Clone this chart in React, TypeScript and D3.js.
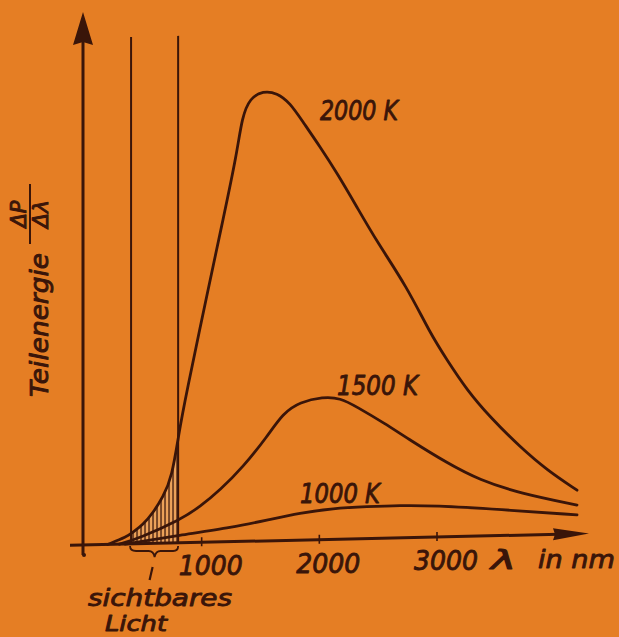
import React from "react";
import * as d3 from "d3";

// ---- data ----
const lambda2000 = [200, 365, 416, 501, 586, 671, 748, 807, 858, 1071, 1181, 1300, 1343, 1411, 1521, 1640, 1751, 1861, 2006, 2150, 2320, 2490, 2745, 2940, 3085, 3255, 3450, 3705, 3935, 4190];
const energy2000 = [0, 1.6, 2.6, 4.2, 6.8, 10.2, 14.7, 24.4, 31.7, 58.2, 71.5, 86.3, 94.3, 98.5, 100, 99.5, 97.2, 92.9, 87.3, 81.4, 73.7, 65.9, 55.7, 45.4, 39.3, 32.5, 26.4, 19.6, 14.3, 9.7];

const lambda1500 = [300, 476, 816, 986, 1156, 1351, 1555, 1691, 1836, 2031, 2176, 2320, 2550, 2770, 3085, 3365, 3705, 4190];
const energy1500 = [0, 1.3, 5.1, 7.9, 11.5, 16.5, 23.1, 28.3, 30.7, 31.7, 31.4, 29.3, 25.6, 21.7, 16.4, 12.4, 9.3, 6.4];

const lambda1000 = [350, 816, 1266, 1555, 1836, 2116, 2405, 2686, 2974, 3535, 4190];
const energy1000 = [0, 1.7, 3.2, 4.6, 6.0, 6.9, 7.1, 7.2, 7.0, 5.8, 4.2];

const curveLabels = ["2000 K", "1500 K", "1000 K"];
const tickValues = [1000, 2000, 3000];
const tickLabels = ["1000", "2000", "3000"];
const visibleRange = [400, 800];

const W = 619;
const H = 637;
const BG = "#e57e24";
const INK = "#3a1509";
const FONT = "'DejaVu Sans', sans-serif";

export default function App() {
  const x = d3.scaleLinear().domain([0, 3000]).range([84, 437]);
  const y = d3.scaleLinear().domain([0, 100]).range([545, 95]);
  const y0 = y(0);

  const line = d3
    .line<[number, number]>()
    .x((d) => x(d[0]))
    .y((d) => y(d[1]))
    .curve(d3.curveBasis);

  const area = d3
    .area<[number, number]>()
    .x((d) => x(d[0]))
    .y0(y0)
    .y1((d) => y(d[1]))
    .curve(d3.curveBasis);

  const s2000 = lambda2000.map((l, i) => [l, energy2000[i]] as [number, number]);
  const s1500 = lambda1500.map((l, i) => [l, energy1500[i]] as [number, number]);
  const s1000 = lambda1000.map((l, i) => [l, energy1000[i]] as [number, number]);

  const xv0 = x(visibleRange[0]);
  const xv1 = x(visibleRange[1]);
  const xm = (xv0 + xv1) / 2;
  const xEnd = 589;
  const skew = `translate(84,${y0}) skewY(-1.3) translate(-84,${-y0})`;

  const labelStyle = {
    fontFamily: FONT,
    fontStyle: "italic" as const,
    fill: INK,
    stroke: INK,
    strokeWidth: 0.9,
    strokeLinejoin: "round" as const,
  };

  return (
    <svg width={W} height={H} style={{ position: "absolute", left: 0, top: 0 }}>
      <defs>
        <pattern id="hatch" width="4" height="8" patternUnits="userSpaceOnUse">
          <rect width="4" height="8" fill="#eda25a" />
          <line x1="1" y1="0" x2="1" y2="8" stroke={INK} strokeWidth="1.3" />
        </pattern>
        <clipPath id="visClip">
          <rect x={xv0} y={0} width={xv1 - xv0} height={H} />
        </clipPath>
      </defs>
      <rect width={W} height={H} fill={BG} />

      <g transform={skew}>
        {/* hatched visible region */}
        <g clipPath="url(#visClip)">
          <path d={area(s2000) || ""} fill="url(#hatch)" />
        </g>

        {/* visible light boundaries */}
        <line x1={xv0} x2={xv0} y1={38} y2={y0} stroke={INK} strokeWidth={2} />
        <line x1={xv1} x2={xv1} y1={38} y2={y0} stroke={INK} strokeWidth={2} />

        {/* curves */}
        {[s2000, s1500, s1000].map((s, i) => (
          <path key={i} d={line(s) || ""} fill="none" stroke={INK} strokeWidth={2.8} strokeLinecap="round" />
        ))}

        {/* x axis */}
        <line x1={70} x2={xEnd - 20} y1={y0} y2={y0} stroke={INK} strokeWidth={3} />
        <path d={`M${xEnd},${y0} L${xEnd - 36},${y0 - 6} L${xEnd - 34},${y0} L${xEnd - 36},${y0 + 6} Z`} fill={INK} />
        {tickValues.map((t) => (
          <line key={t} x1={x(t)} x2={x(t)} y1={y0 - 5} y2={y0 + 4} stroke={INK} strokeWidth={1.6} />
        ))}
      </g>

      {/* y axis */}
      <line x1={83} x2={83} y1={555} y2={40} stroke={INK} strokeWidth={3} />
      <circle cx={84} cy={555} r={2} fill={INK} />
      <path d="M83,12 L73,45 L83,42 L93,45 Z" fill={INK} />

      {/* brace under visible region */}
      <path
        d={`M${xv0 - 1},${y0 + 1} Q${xv0 - 1},${y0 + 6} ${xv0 + 5},${y0 + 6} L${xm - 6},${y0 + 6} Q${xm - 1},${y0 + 6} ${xm},${y0 + 12} Q${xm + 1},${y0 + 6} ${xm + 6},${y0 + 6} L${xv1 - 5},${y0 + 6} Q${xv1},${y0 + 6} ${xv1},${y0 + 1}`}
        fill="none"
        stroke={INK}
        strokeWidth={1.8}
      />
      <line x1={xm - 2} y1={y0 + 22} x2={xm - 5} y2={y0 + 35} stroke={INK} strokeWidth={2.2} />

      {/* tick labels */}
      {tickValues.map((t, i) => (
        <text key={t} x={x(t) - 23} y={575 - i * 2.5} fontSize={27} textLength={64} lengthAdjust="spacingAndGlyphs" {...labelStyle}>
          {tickLabels[i]}
        </text>
      ))}
      <text x={491} y={569} fontSize={26} textLength={25} lengthAdjust="spacingAndGlyphs" {...labelStyle}>λ</text>
      <text x={538} y={568} fontSize={25} textLength={77} lengthAdjust="spacingAndGlyphs" {...labelStyle}>in nm</text>

      {/* curve labels */}
      <text x={320} y={120} fontSize={27} textLength={78} lengthAdjust="spacingAndGlyphs" {...labelStyle}>{curveLabels[0]}</text>
      <text x={337} y={395} fontSize={26} textLength={81} lengthAdjust="spacingAndGlyphs" {...labelStyle}>{curveLabels[1]}</text>
      <text x={300} y={503} fontSize={26} textLength={80} lengthAdjust="spacingAndGlyphs" {...labelStyle}>{curveLabels[2]}</text>

      {/* sichtbares Licht */}
      <text x={88} y={606} fontSize={23} textLength={144} lengthAdjust="spacingAndGlyphs" {...labelStyle}>sichtbares</text>
      <text x={105} y={631} fontSize={21} textLength={62} lengthAdjust="spacingAndGlyphs" {...labelStyle}>Licht</text>

      {/* y axis label */}
      <g transform="translate(48,397) rotate(-90)">
        <text x={0} y={0} fontSize={25} textLength={144} lengthAdjust="spacingAndGlyphs" {...labelStyle}>Teilenergie</text>
        <text x={183} y={-22} fontSize={21} textAnchor="middle" {...labelStyle}>ΔP</text>
        <line x1={153} x2={213} y1={-18} y2={-18} stroke={INK} strokeWidth={2} />
        <text x={183} y={0} fontSize={22} textAnchor="middle" {...labelStyle}>Δλ</text>
      </g>
    </svg>
  );
}
